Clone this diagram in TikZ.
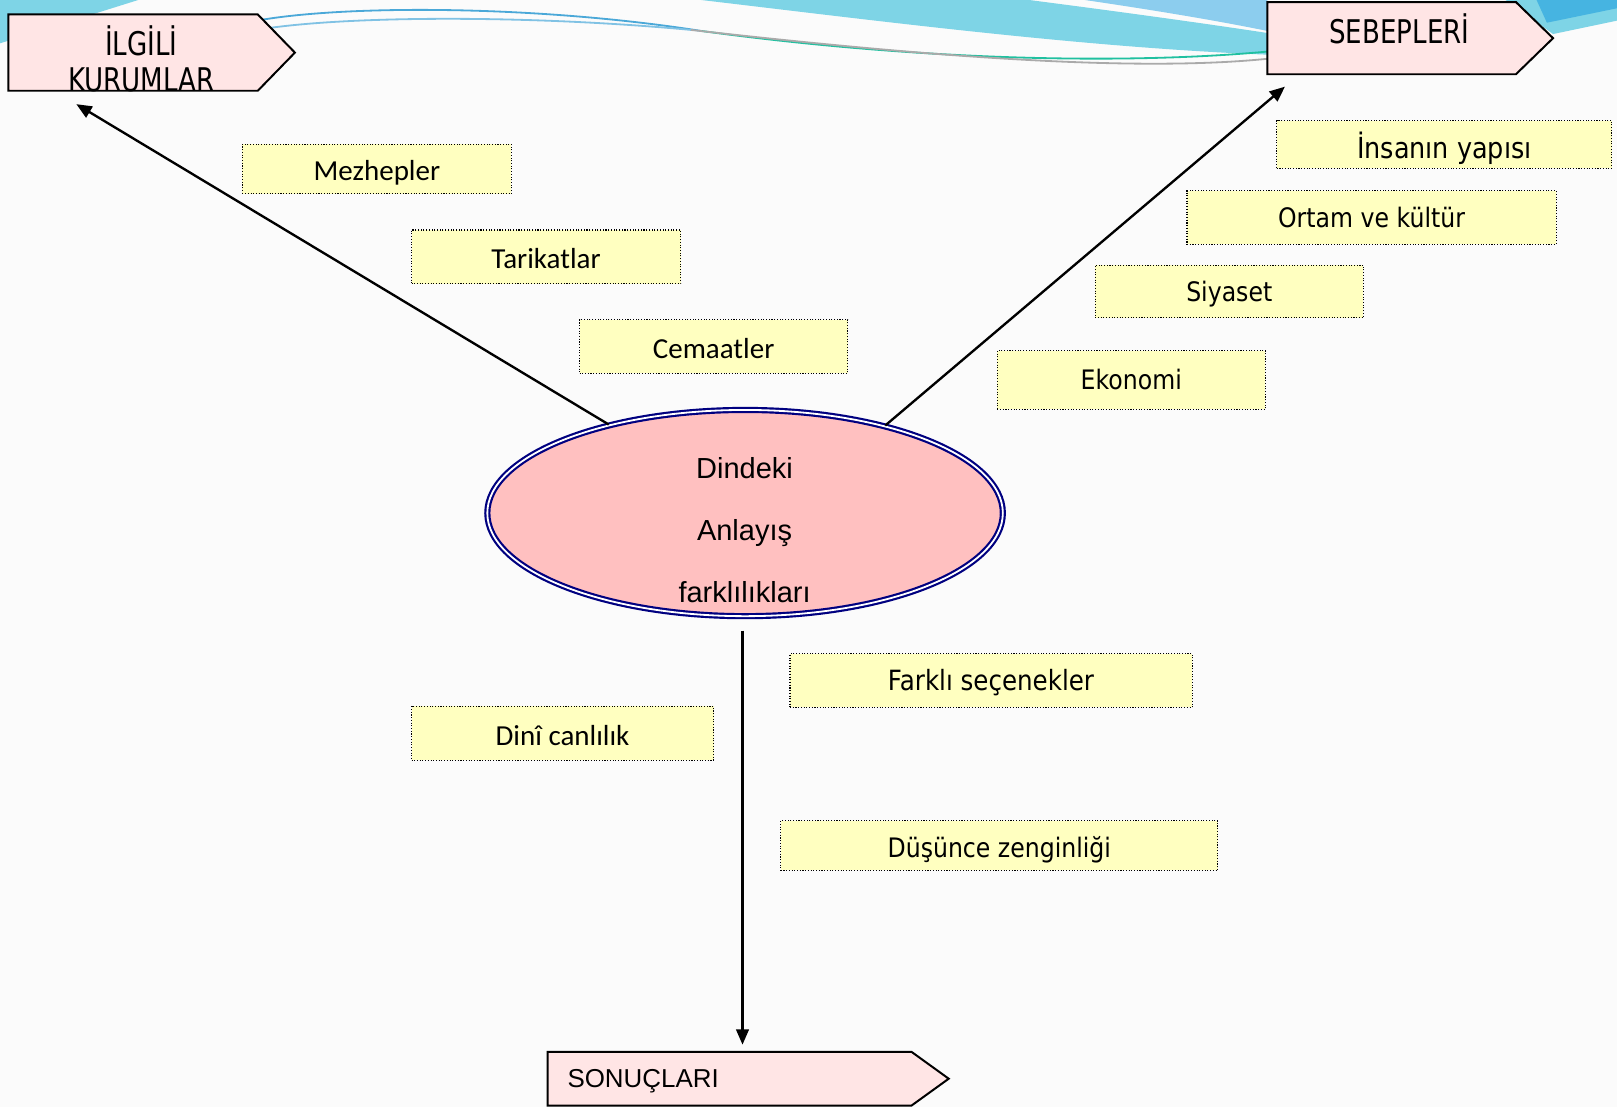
\documentclass[tikz,border=0pt]{standalone}
\usepackage{fontspec}
\usepackage{xcolor}
\usepackage{tikz}
\usetikzlibrary{calc}
\usetikzlibrary{arrows.meta}
\usetikzlibrary{shapes.geometric}

\newfontfamily\calibrifont{Carlito}
\newfontfamily\tahomafont[FakeStretch=0.88]{DejaVu Sans}
\newfontfamily\baslikfont[FakeStretch=0.8]{DejaVu Sans}
\newfontfamily\arialfont{Liberation Sans}

\definecolor{zemin}{RGB}{251,251,251}
\definecolor{pembe}{RGB}{255,229,229}
\definecolor{elipspembe}{RGB}{255,192,192}
\definecolor{lacivert}{RGB}{0,0,128}
\definecolor{sari}{RGB}{255,255,192}
\definecolor{camgobegi}{RGB}{126,212,230}
\definecolor{acikmavi}{RGB}{140,205,238}
\definecolor{koyumavi}{RGB}{70,180,225}
\definecolor{cizgimavi}{RGB}{74,168,216}
\definecolor{cizgiyesil}{RGB}{32,192,160}
\definecolor{cizgigri}{RGB}{170,170,170}

\begin{document}
\begin{tikzpicture}[x=0.02cm,y=-0.02cm]

\tikzset{
    kutu/.style = {
    draw, fill=sari, line width=0.6pt,
    dash pattern=on 0.6pt off 0.9pt,
    inner sep=0pt, outer sep=0pt
    }
}

\tikzstyle{ok}=[line width=1.3pt, -{Triangle[length=8.5pt,width=7pt]}]
\tikzstyle{govde}=[inner sep=0pt, outer sep=0pt]
\tikzstyle{baslik}=[draw, line width=1.1pt, fill=pembe, line join=miter]
\tikzstyle{calibri}=[font=\calibrifont\fontsize{16}{19}\selectfont, text height=13pt, text depth=0pt]
\tikzstyle{tahoma}=[font=\tahomafont\fontsize{14.8}{18}\selectfont, text height=11pt, text depth=0pt]

\useasboundingbox (0,0) rectangle (1568,1073);
\fill[zemin] (0,0) rectangle (1568,1073);

% arka plandaki dalgalar
\fill[camgobegi] (0,0) -- (134,0) -- (0,42) -- cycle;
\fill[camgobegi] (680,0) .. controls (850,20) and (1050,46) .. (1229,53) -- (1229,32) .. controls (1150,20) and (1060,8) .. (998,0) -- cycle;
\fill[acikmavi] (1052,0) .. controls (1120,10) and (1180,20) .. (1229,30) -- (1229,0) -- cycle;
\fill[camgobegi] (1460,0) -- (1568,0) -- (1568,20) -- (1506,33) -- cycle;
\fill[koyumavi] (1490,0) -- (1568,0) -- (1568,8) -- (1500,22) -- cycle;
\draw[cizgimavi, line width=1pt] (255,19) .. controls (340,5) and (520,5) .. (680,30);
\draw[cizgiyesil, line width=1pt] (680,30) .. controls (900,60) and (1100,62) .. (1229,50);
\draw[cizgimavi!70, line width=1pt] (262,27) .. controls (350,15) and (520,15) .. (670,29);
\draw[cizgigri, line width=1pt] (670,29) .. controls (900,55) and (1100,70) .. (1229,57);

\node[govde, minimum width=4.84cm, minimum height=1.48cm] (ilgili) at (129,51) {};
\node[govde, minimum width=4.82cm, minimum height=1.4cm] (sebep) at (1349.5,37) {};
\node[govde, minimum width=7.06cm, minimum height=1.04cm] (sonuc) at (707.5,1046) {};

\foreach \b in {ilgili,sebep,sonuc}
  \draw[baslik] (\b.south west) -- (\b.north west) -- (\b.north east) -- ($(\b.east)+(36,0)$) -- (\b.south east) -- cycle;

\node[font=\baslikfont\fontsize{18}{19.4}\selectfont, align=center] (ilgili-yazi) at (137,57) {İLGİLİ\\KURUMLAR};
\node[font=\baslikfont\fontsize{18}{20}\selectfont] (sebep-yazi) at (1357,28) {SEBEPLERİ};
\node[font=\arialfont\fontsize{14.3}{17}\selectfont, anchor=west, inner sep=0pt] (sonuc-yazi) at (550,1048) {SONUÇLARI};

\node[ellipse, draw=lacivert, line width=1.2pt, double=white, double distance=1pt, fill=elipspembe,
      minimum width=10cm, minimum height=4cm, inner sep=0pt] (merkez) at (722.5,497.5) {};
\node[font=\arialfont\fontsize{16}{34}\selectfont, align=center] (merkez-yazi) at (722,514) {Dindeki\\Anlayış\\farklılıkları};

\node[kutu, calibri, minimum width=5.22cm, minimum height=0.96cm] (mezhep) at (365.5,164) {Mezhepler};
\node[kutu, calibri, minimum width=5.22cm, minimum height=1.04cm] (tarikat) at (529.5,249) {Tarikatlar};
\node[kutu, calibri, minimum width=5.2cm, minimum height=1.04cm] (cemaat) at (692,336) {Cemaatler};

\node[kutu, tahoma, font=\tahomafont\fontsize{16}{19}\selectfont, text height=15.5pt, minimum width=6.5cm, minimum height=0.92cm] (insan) at (1400.5,140) {İnsanın yapısı};
\node[kutu, tahoma, minimum width=7.16cm, minimum height=1.04cm] (ortam) at (1330,211) {Ortam ve kültür};
\node[kutu, tahoma, minimum width=5.2cm, minimum height=1.02cm] (siyaset) at (1192,282.5) {Siyaset};
\node[kutu, tahoma, minimum width=5.2cm, minimum height=1.14cm] (ekonomi) at (1097,368.5) {Ekonomi};

\node[kutu, tahoma, font=\tahomafont\fontsize{15.4}{18}\selectfont, minimum width=7.8cm, minimum height=1.04cm] (farkli) at (961,660) {Farklı seçenekler};
\node[kutu, calibri, minimum width=5.86cm, minimum height=1.04cm] (dini) at (545.5,711) {Dinî canlılık};
\node[kutu, tahoma, text height=13.5pt, minimum width=8.48cm, minimum height=0.96cm] (dusunce) at (969,820) {Düşünce zenginliği};

\coordinate (ilgili-ucu) at (74,101);
\coordinate (sebep-ucu) at (1246,84);
\coordinate (sonuc-ucu) at (720,1013);

\draw[ok] (merkez.147) -- (ilgili-ucu);
\draw[ok] (merkez.32) -- (sebep-ucu);
\draw[ok, shorten <=0.26cm] (merkez.south -| sonuc-ucu) -- (sonuc-ucu);

% \node at (722,40) {başlık};

\end{tikzpicture}
\end{document}
